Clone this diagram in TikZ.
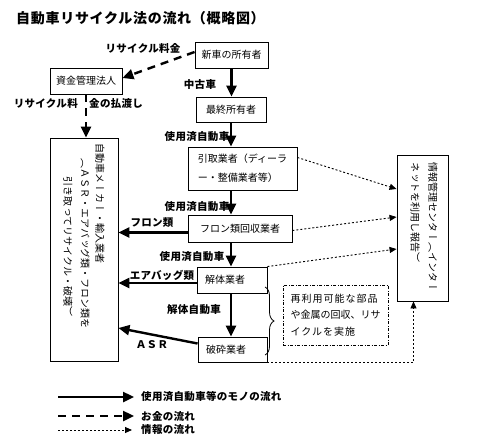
\documentclass[tikz,border=0pt]{standalone}
\usepackage{fontspec}
\setmainfont{Noto Sans CJK JP}
\newfontfamily\vjp[Vertical=RotatedGlyphs]{Noto Sans CJK JP}
\usetikzlibrary{arrows.meta,decorations.pathreplacing}
\begin{document}
\begin{tikzpicture}[x=1pt,y=-1pt,
  box/.style={draw, line width=0.9pt, inner sep=0pt, font=\fontsize{10}{12}\selectfont},
  lbl/.style={inner sep=0pt, font=\bfseries\fontsize{10.5}{12}\selectfont\addfontfeature{LetterSpace=3}},
  vtext/.style={rotate=-90, anchor=west, inner sep=0pt, font=\vjp\fontsize{10}{12}\selectfont},
  thing/.style={line width=2.4pt, -{Triangle[length=11pt,width=10pt]}},
  money/.style={line width=2.4pt, dash pattern=on 8pt off 6pt, -{Triangle[length=11pt,width=10pt]}},
  infoflow/.style={line width=0.9pt, dash pattern=on 2pt off 2pt, -{Triangle[length=7pt,width=6pt]}},
  dashdot/.style={dash pattern=on 3pt off 1.5pt on 1pt off 1.5pt, line width=0.8pt}
]
\useasboundingbox (0,0) rectangle (481,444);
\fill[white] (0,0) rectangle (481,444);

% title
\node[anchor=west, inner sep=0pt, font=\bfseries\fontsize{14}{16}\selectfont\addfontfeature{LetterSpace=5}] (title) at (16,18) {自動車リサイクル法の流れ（概略図）};

% boxes
\node[box, minimum width=73pt, minimum height=26pt] (n1) at (231.5,55) {新車の所有者};
\node[box, minimum width=72pt, minimum height=26pt] (fund) at (86,81) {資金管理法人};
\node[box, minimum width=70pt, minimum height=25pt] (last) at (231,109.5) {最終所有者};
\node[box, minimum width=109pt, minimum height=43pt, align=left, font=\fontsize{10}{19}\selectfont] (hiki) at (242.5,168.5) {引取業者（ディーラ\\ー・整備業者等）};
\node[box, minimum width=104pt, minimum height=27pt] (fron) at (240,228.5) {フロン類回収業者};
\node[box, minimum height=26pt, text width=54pt, inner xsep=8pt, align=left] (kai) at (232,280) {解体業者};
\node[box, minimum height=25pt, text width=53pt, inner xsep=8pt, align=left] (hasai) at (232.5,349.5) {破砕業者};
\node[box, minimum width=68pt, minimum height=223pt] (maker) at (84,249.5) {};
\node[box, minimum width=51pt, minimum height=146pt] (info) at (422.5,228) {};
\node[box, dashdot, minimum width=105pt, minimum height=60pt, align=left, font=\fontsize{10}{16.5}\selectfont] (note) at (335.5,315)
  {{\addfontfeature{LetterSpace=10}再利用可能な部品}\\や金属の回収、リサ\\{\addfontfeature{LetterSpace=10}イクルを実施}};

% vertical texts
\node[vtext] (m1) at (100,143) {自動車メーカー・輸入業者};
\node[vtext] (m2) at (85,158) {（ＡＳＲ・エアバッグ類・フロン類を};
\node[vtext] (m3) at (68,176) {引き取ってリサイクル・破壊）};
\node[vtext] (i1) at (433,162) {情報管理センター（インター};
\node[vtext] (i2) at (415,162) {ネットを利用し報告）};

% labels
\node[lbl] (l1) at (143,48) {リサイクル料金};
\node[lbl, anchor=east] (l2a) at (78,103) {リサイクル料};
\node[lbl, anchor=west] (l2b) at (89,103) {金の払渡し};
\node[lbl] (l3) at (200,85) {中古車};
\node[lbl] (l4) at (197,137) {使用済自動車};
\node[lbl] (l5) at (197,207) {使用済自動車};
\node[lbl] (l6) at (192,257) {使用済自動車};
\node[lbl] (l7) at (194,310) {解体自動車};
\node[lbl] (l8) at (152,223) {フロン類};
\node[lbl] (l9) at (162,275) {エアバッグ類};
\node[lbl] (l10) at (152,345) {ＡＳＲ};

% solid flows
\draw[thing] (n1.south) -- (n1.south |- last.north);
\draw[thing] (last.south) -- (last.south |- hiki.north);
\draw[thing] (last.south |- hiki.south) -- (last.south |- fron.north);
\draw[thing] (last.south |- fron.south) -- (last.south |- kai.north);
\draw[thing] (last.south |- kai.south) -- (last.south |- hasai.north);
\draw[thing] ([yshift=-4pt]fron.west) -- ([yshift=-4pt]fron.west -| maker.east);
\draw[thing] ([yshift=-3pt]kai.west) -- ([yshift=-3pt]kai.west -| maker.east);
\draw[thing] ([yshift=6pt]hasai.west) -- (maker.east |- 0,328);

% money flows
\draw[money] ([yshift=3pt]n1.west) -- ([yshift=3pt]fund.east);
\draw[money] (fund.south) -- (fund.south |- maker.north);

% info flows
\draw[infoflow] ([yshift=11pt]hiki.east) -- (info.west |- 0,189);
\draw[infoflow] ([yshift=-2pt]fron.east) -- (info.west |- 0,217);
\draw[infoflow] (kai.north east) -- (info.west |- 0,249);
\draw[infoflow] (hasai.south east) -| ([xshift=-9pt]info.south);

% brace
\coordinate (bt) at (265,287);
\coordinate (bb) at (265,355);
\draw[line width=0.8pt, decorate, decoration={brace, amplitude=9pt}] (bt) -- (bb);

% legend
\coordinate (s1) at (58,397); \coordinate (e1) at (134,397);
\coordinate (s2) at (58,416); \coordinate (e2) at (134,416);
\coordinate (s3) at (58,430); \coordinate (e3) at (132,430);
\draw[thing] (s1) -- (e1);
\draw[money] (s2) -- (e2);
\draw[infoflow] (s3) -- (e3);
\node[lbl, anchor=west] (g1) at (141,397) {使用済自動車等のモノの流れ};
\node[lbl, anchor=west] (g2) at (141,416) {お金の流れ};
\node[lbl, anchor=west] (g3) at (141,430) {情報の流れ};
\end{tikzpicture}
\end{document}
